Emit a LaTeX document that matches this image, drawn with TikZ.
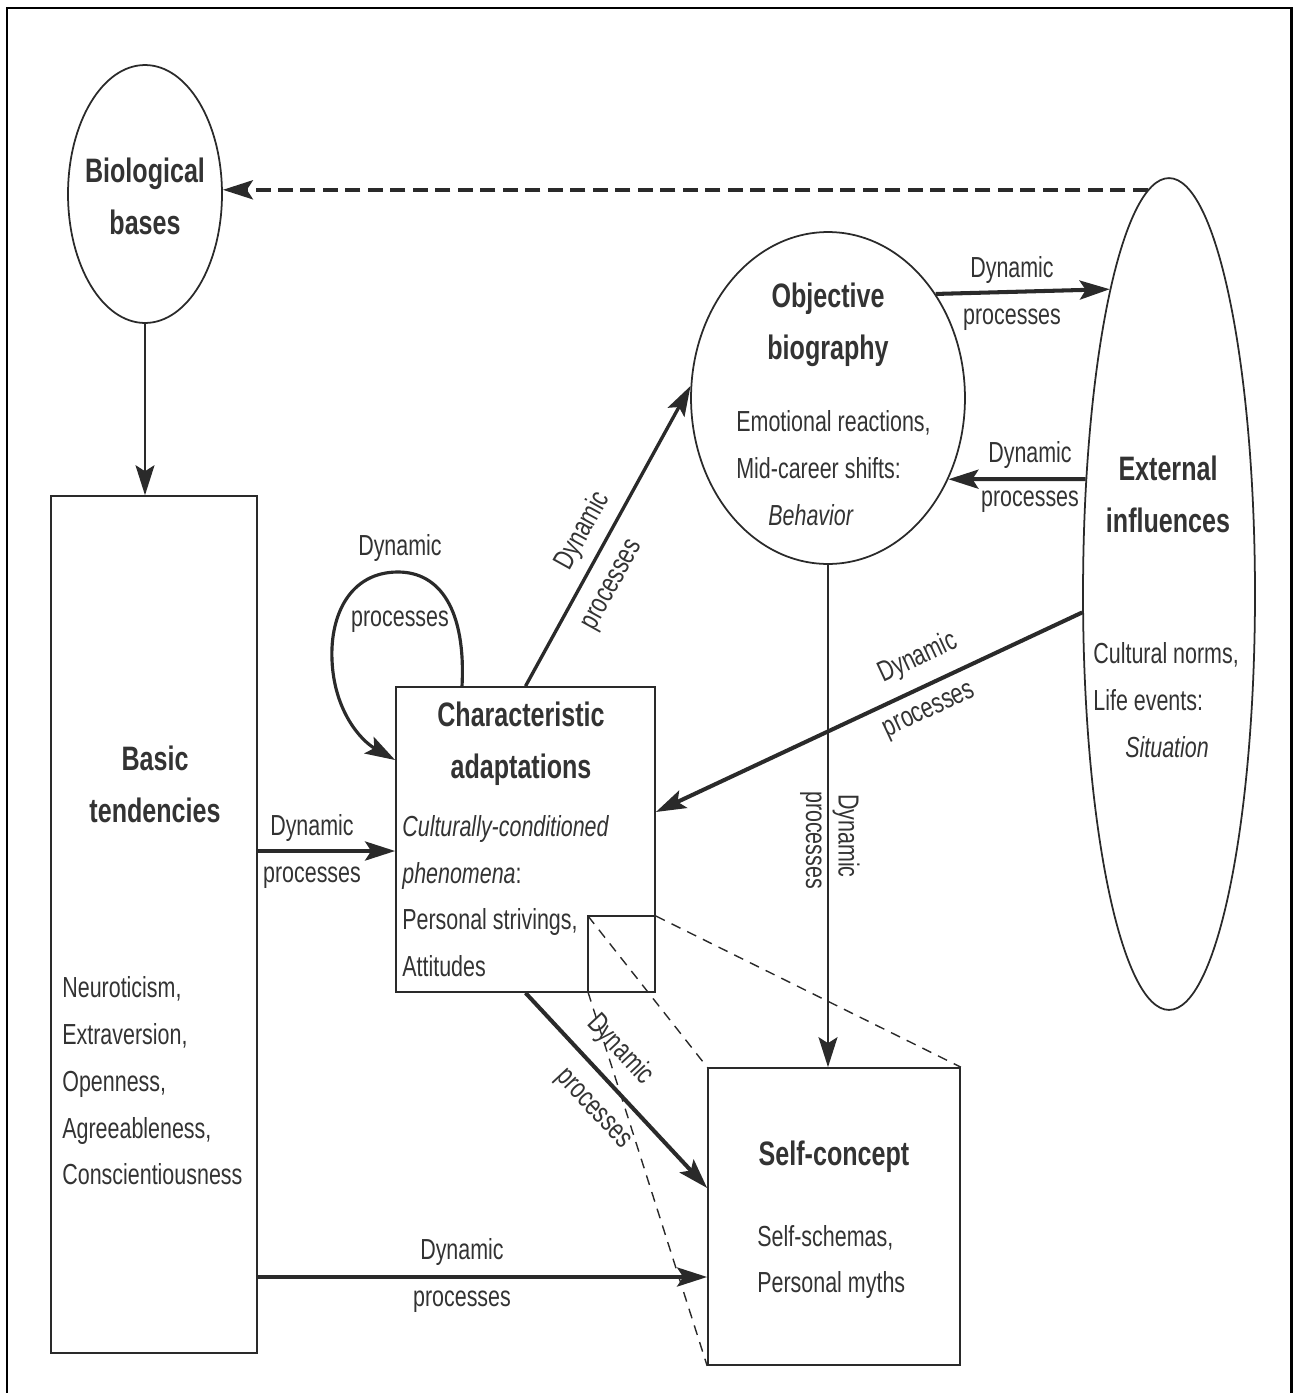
\documentclass[tikz,border=0pt]{standalone}
\usepackage{fontspec}
\setmainfont{Liberation Sans}[FakeStretch=0.74]
\usepackage{tikz}
\usetikzlibrary{shapes.geometric}
\usetikzlibrary{positioning, calc, arrows.meta}
\definecolor{txt}{HTML}{333333}
\definecolor{ink}{HTML}{2a2a2a}

\begin{document}
\begin{tikzpicture}[x=0.02cm, y=-0.02cm,
    >={Stealth[length=0.6cm, width=0.38cm, inset=0.12cm]},
    box/.style={draw=ink, line width=1pt, rectangle, inner sep=0pt},
    oval/.style={draw=ink, line width=1pt, ellipse, inner sep=0pt},
    ttl/.style={font=\fontsize{19.3}{29.5}\selectfont\bfseries, text=txt, inner sep=0pt, align=center},
    body/.style={font=\fontsize{16.5}{26.6}\selectfont, text=txt, inner sep=0pt, align=left, anchor=west},
    lbl/.style={font=\fontsize{16.5}{26.6}\selectfont, text=txt, inner sep=0pt},
    thickarr/.style={draw=ink, line width=2.3pt, ->},
    thinarr/.style={draw=ink, line width=1.2pt, ->},
    proj/.style={draw=ink, line width=0.8pt, dash pattern=on 0.2cm off 0.15cm}]

    \useasboundingbox (0,0) rectangle (1296,1393);

    % outer frame
    \draw[line width=1.7pt] (7,1393) -- (7,8) -- (1291,8) -- (1291,1393);

    % shapes
    \node[oval, minimum width=3.08cm, minimum height=5.16cm] (bio) at (145,194) {};
    \node[box, minimum width=4.12cm, minimum height=17.14cm] (basic) at (154,924.5) {};
    \node[box, minimum width=5.18cm, minimum height=6.1cm] (charad) at (525.5,839.5) {};
    \node[oval, minimum width=5.48cm, minimum height=6.64cm] (objbio) at (828,398) {};
    \node[oval, minimum width=3.44cm, minimum height=16.64cm] (extinf) at (1169,594) {};
    \node[box, minimum width=5.04cm, minimum height=5.94cm] (selfcon) at (834,1216.5) {};

    % texts
    \node[ttl] (biot) at (145,196) {Biological\\bases};
    \node[ttl] (basict) at (155,784) {Basic\\tendencies};
    \node[body] (basicb) at (62,1081) {Neuroticism,\\Extraversion,\\Openness,\\Agreeableness,\\Conscientiousness};
    \node[ttl] (chart) at (521,744) {Characteristic\\adaptations};
    \node[body] (charb) at (402,896) {\textit{Culturally-conditioned}\\\textit{phenomena}:\\Personal strivings,\\Attitudes};
    \node[ttl] (objt) at (828,325) {Objective\\biography};
    \node[body] (objb) at (736,468) {Emotional reactions,\\Mid-career shifts:\\\hspace*{0.64cm}\textit{Behavior}};
    \node[ttl] (extt) at (1168,494) {External\\influences};
    \node[body] (extb) at (1093,700) {Cultural norms,\\Life events:\\\hspace*{0.64cm}\textit{Situation}};
    \node[ttl] (selft) at (834,1157) {Self-concept};
    \node[body] (selfb) at (757,1262) {Self-schemas,\\Personal myths};

    % anchor points
    \coordinate (cain) at ([yshift=-0.23cm]charad.west);
    \coordinate (caext) at ([yshift=0.55cm]charad.east);
    \coordinate (scin) at ([yshift=0.57cm]selfcon.west);
    \coordinate (sclow) at ([yshift=-1.21cm]selfcon.west);
    \coordinate (loopa) at ([xshift=-1.27cm]charad.north);
    \coordinate (loopb) at ([yshift=1.59cm]charad.west);
    \coordinate (zoomnw) at (588,916);
    \coordinate (zoomsw) at (588,992);

    % connectors
    \draw[line width=2.2pt, draw=ink, dash pattern=on 0.3cm off 0.15cm, ->] (extinf.93) -- (extinf.93 -| bio.east);
    \draw[thinarr] (bio.south) -- (bio.south |- basic.north);
    \draw[thinarr] (objbio.south) -- (objbio.south |- selfcon.north);
    \draw[thickarr] (cain -| basic.east) -- (cain);
    \draw[thickarr] (sclow -| basic.east) -- (sclow);
    \draw[thickarr] (objbio.44) -- (extinf.101);
    \draw[thickarr] (extinf.126) -- (objbio.-34);
    \draw[thickarr] (extinf.192) -- (caext);
    \draw[thickarr, line width=1.9pt] (charad.north) -- (objbio.175);
    \draw[thickarr] (charad.south) -- (scin);
    \draw[draw=ink, line width=1.8pt, ->] (loopa) .. controls (466,610) and (440,572) .. (398,572)
        .. controls (350,572) and (330,615) .. (332,660)
        .. controls (334,710) and (360,740) .. (loopb);

    % zoomed part
    \draw[draw=ink, line width=0.8pt] (zoomsw) -- (zoomnw) -- (zoomnw -| charad.east);
    \draw[proj] (zoomnw -| charad.east) -- (selfcon.north east);
    \draw[proj] (zoomnw) -- (selfcon.north west);
    \draw[proj] (zoomsw) -- (selfcon.south west);

    % labels
    \node[lbl] (l1a) at (312,828) {Dynamic};
    \node[lbl] (l1b) at (312,878) {processes};
    \node[lbl] (l2a) at (462,1252) {Dynamic};
    \node[lbl] (l2b) at (462,1302) {processes};
    \node[lbl] (l3a) at (1012,270) {Dynamic};
    \node[lbl] (l3b) at (1012,320) {processes};
    \node[lbl] (l4a) at (1030,455) {Dynamic};
    \node[lbl] (l4b) at (1030,502) {processes};
    \node[lbl] (l5a) at (400,548) {Dynamic};
    \node[lbl] (l5b) at (400,622) {processes};
    \node[lbl, rotate=61] (l6a) at (583,531) {Dynamic};
    \node[lbl, rotate=61] (l6b) at (614,586) {processes};
    \node[lbl, rotate=25] (l7a) at (918,658) {Dynamic};
    \node[lbl, rotate=25] (l7b) at (930,712) {processes};
    \node[lbl, rotate=-90] (l8a) at (846,836) {Dynamic};
    \node[lbl, rotate=-90] (l8b) at (811,840) {processes};
    \node[lbl, rotate=-47] (l9a) at (620,1050) {Dynamic};
    \node[lbl, rotate=-47] (l9b) at (592,1110) {processes};

\end{tikzpicture}
\end{document}
